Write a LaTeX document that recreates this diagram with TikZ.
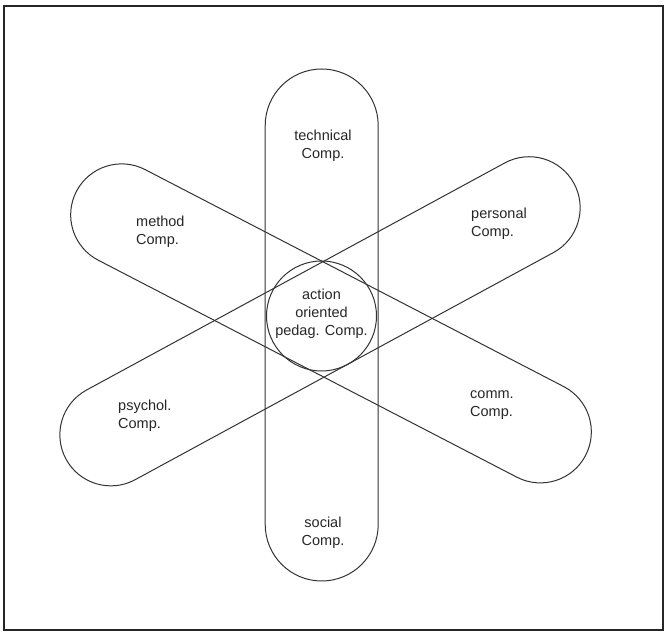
\documentclass[tikz,border=0pt]{standalone}
\usepackage{fontspec}
\setmainfont{Liberation Sans}
\begin{document}
\begin{tikzpicture}[x=1pt,y=1pt,
  outline/.style={draw=black!80, line width=1pt},
  pill/.style={outline, inner sep=0pt, rectangle},
  lbl/.style={inner sep=0pt, font=\fontsize{14.5}{18}\selectfont, text=black!85},
  lblc/.style={lbl, align=center},
  lbll/.style={lbl, align=left, anchor=west}]
\useasboundingbox (0,0) rectangle (669,634);
\draw[draw=black!85, line width=1.2pt] (4,4) rectangle (663,628);
% vertical pill
\node[pill, minimum width=113pt, minimum height=512pt, rounded corners=56.5pt] (vert) at (321.7,309) {};
% method / comm pill
\node[pill, minimum width=573.6pt, minimum height=102pt, rounded corners=51pt, rotate=-27.4] (mc) at (331,310.6) {};
% personal / psychol pill
\node[pill, minimum width=578pt, minimum height=102pt, rounded corners=51pt, rotate=28.5] (pp) at (320,312.7) {};
% centre circle
\node[outline, circle, minimum size=110pt, inner sep=0pt] (centre) at (321.5,318) {};
% labels
\node[lblc] (lcentre) at (321.5,320) {action\\oriented\\pedag. Comp.};
\node[lblc] (ltech) at (323,488) {technical\\Comp.};
\node[lblc] (lsoc) at (323,101) {social\\Comp.};
\node[lbll] (lmeth) at (136,402.5) {method\\Comp.};
\node[lbll] (lpers) at (471,410) {personal\\Comp.};
\node[lbll] (lpsy) at (118,218) {psychol.\\Comp.};
\node[lbll] (lcomm) at (470,229) {comm.\\Comp.};
\end{tikzpicture}
\end{document}
